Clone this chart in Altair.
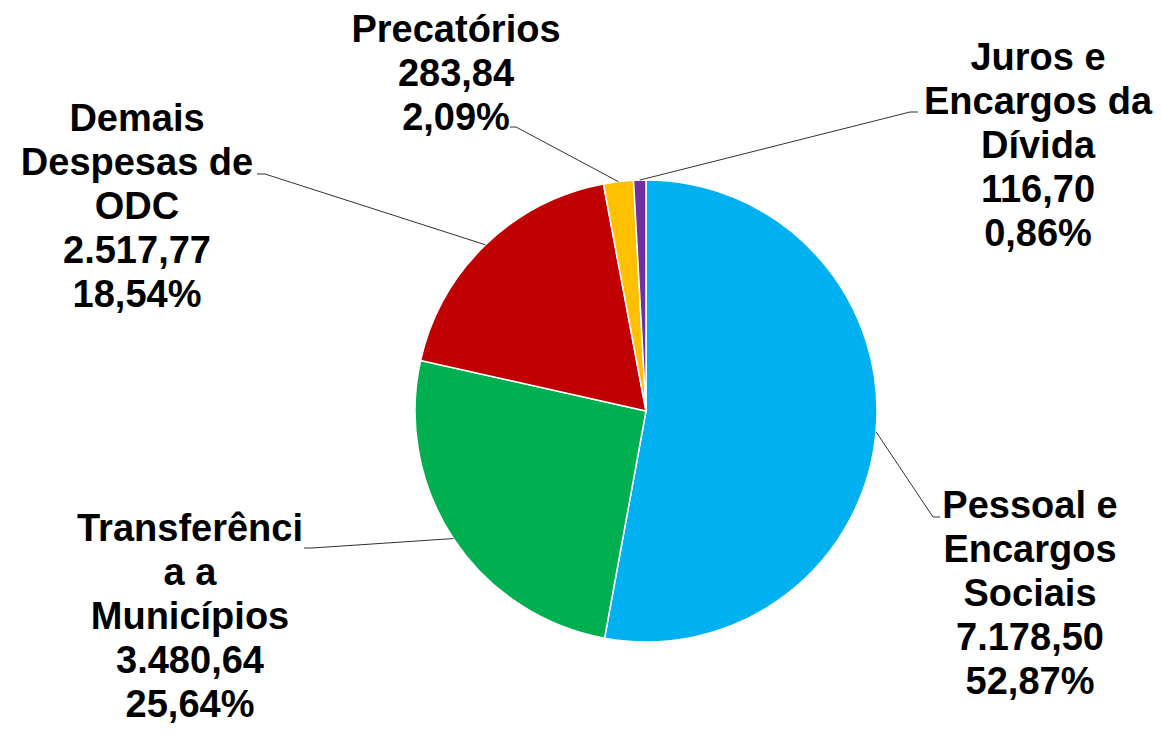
import math
import altair as alt
import pandas as pd

# ---------------- data ----------------
categories = ["Pessoal e Encargos Sociais", "Transferência a Municípios",
              "Demais Despesas de ODC", "Precatórios", "Juros e Encargos da Dívida"]
label_names = ["Pessoal e\nEncargos\nSociais", "Transferênci\na a\nMunicípios",
               "Demais\nDespesas de\nODC", "Precatórios", "Juros e\nEncargos da\nDívida"]
values = [7178.50, 3480.64, 2517.77, 283.84, 116.70]
percents = [52.87, 25.64, 18.54, 2.09, 0.86]

# ---------------- style / layout ----------------
colors = ["#00B0F0", "#00B050", "#C00000", "#FFC000", "#7030A0"]
W, H = 1146, 718
CX, CY, R = 638, 403, 231
# label centre x and first-line baseline y (chart coords)
label_pos = [(1022, 510), (182, 533), (129, 123), (448, 34), (1030, 62)]
# leader elbow and end points (chart coords)
leader_pts = [((925, 509), (932, 509)),
              ((304, 540), (296, 540)),
              ((257, 166), (249, 166)),
              ((508, 119), (502, 119)),
              ((902, 104), (910, 104))]


def fmt_num(v):
    s = f"{v:,.2f}"
    return s.replace(",", "X").replace(".", ",").replace("X", ".")


def fmt_pct(p):
    return f"{p:.2f}".replace(".", ",") + "%"


pie_df = pd.DataFrame({"cat": categories, "value": values, "idx": range(len(values))})

labels = [f"{n}\n{fmt_num(v)}\n{fmt_pct(p)}" for n, v, p in zip(label_names, values, percents)]
text_df = pd.DataFrame({
    "label": labels,
    "lx": [p[0] for p in label_pos],
    "ly": [p[1] for p in label_pos],
})

total = sum(values)
rows = []
cum = 0.0
for i, v in enumerate(values):
    mid = (cum + v / 2) / total * 2 * math.pi
    cum += v
    sx = CX + R * math.sin(mid)
    sy = CY - R * math.cos(mid)
    (ex, ey), (fx, fy) = leader_pts[i]
    for k, (x, y) in enumerate([(sx, sy), (ex, ey), (fx, fy)]):
        rows.append({"id": i, "ord": k, "x": x, "y": y})
line_df = pd.DataFrame(rows)

pie = alt.Chart(pie_df).mark_arc(outerRadius=R, stroke="white", strokeWidth=1.5).encode(
    theta=alt.Theta("value:Q", stack=True),
    color=alt.Color("cat:N", scale=alt.Scale(domain=categories, range=colors), legend=None),
    order=alt.Order("idx:Q"),
    x=alt.value(CX),
    y=alt.value(CY),
)

leaders = alt.Chart(line_df).mark_line(color="#333333", strokeWidth=1).encode(
    x=alt.X("x:Q", scale=None, axis=None),
    y=alt.Y("y:Q", scale=None, axis=None),
    detail="id:N",
    order="ord:Q",
)

text = alt.Chart(text_df).mark_text(
    font="Liberation Sans", fontWeight="bold", fontSize=38, lineHeight=44,
    align="center", baseline="alphabetic", lineBreak="\n", color="black",
).encode(
    x=alt.X("lx:Q", scale=None, axis=None),
    y=alt.Y("ly:Q", scale=None, axis=None),
    text="label:N",
)

chart = alt.layer(pie, leaders, text).properties(
    width=W, height=H, padding=0, autosize=alt.AutoSizeParams(type="none")
).configure_view(stroke=None)

chart.save("out.html", embed_options={"renderer": "svg", "actions": False})
